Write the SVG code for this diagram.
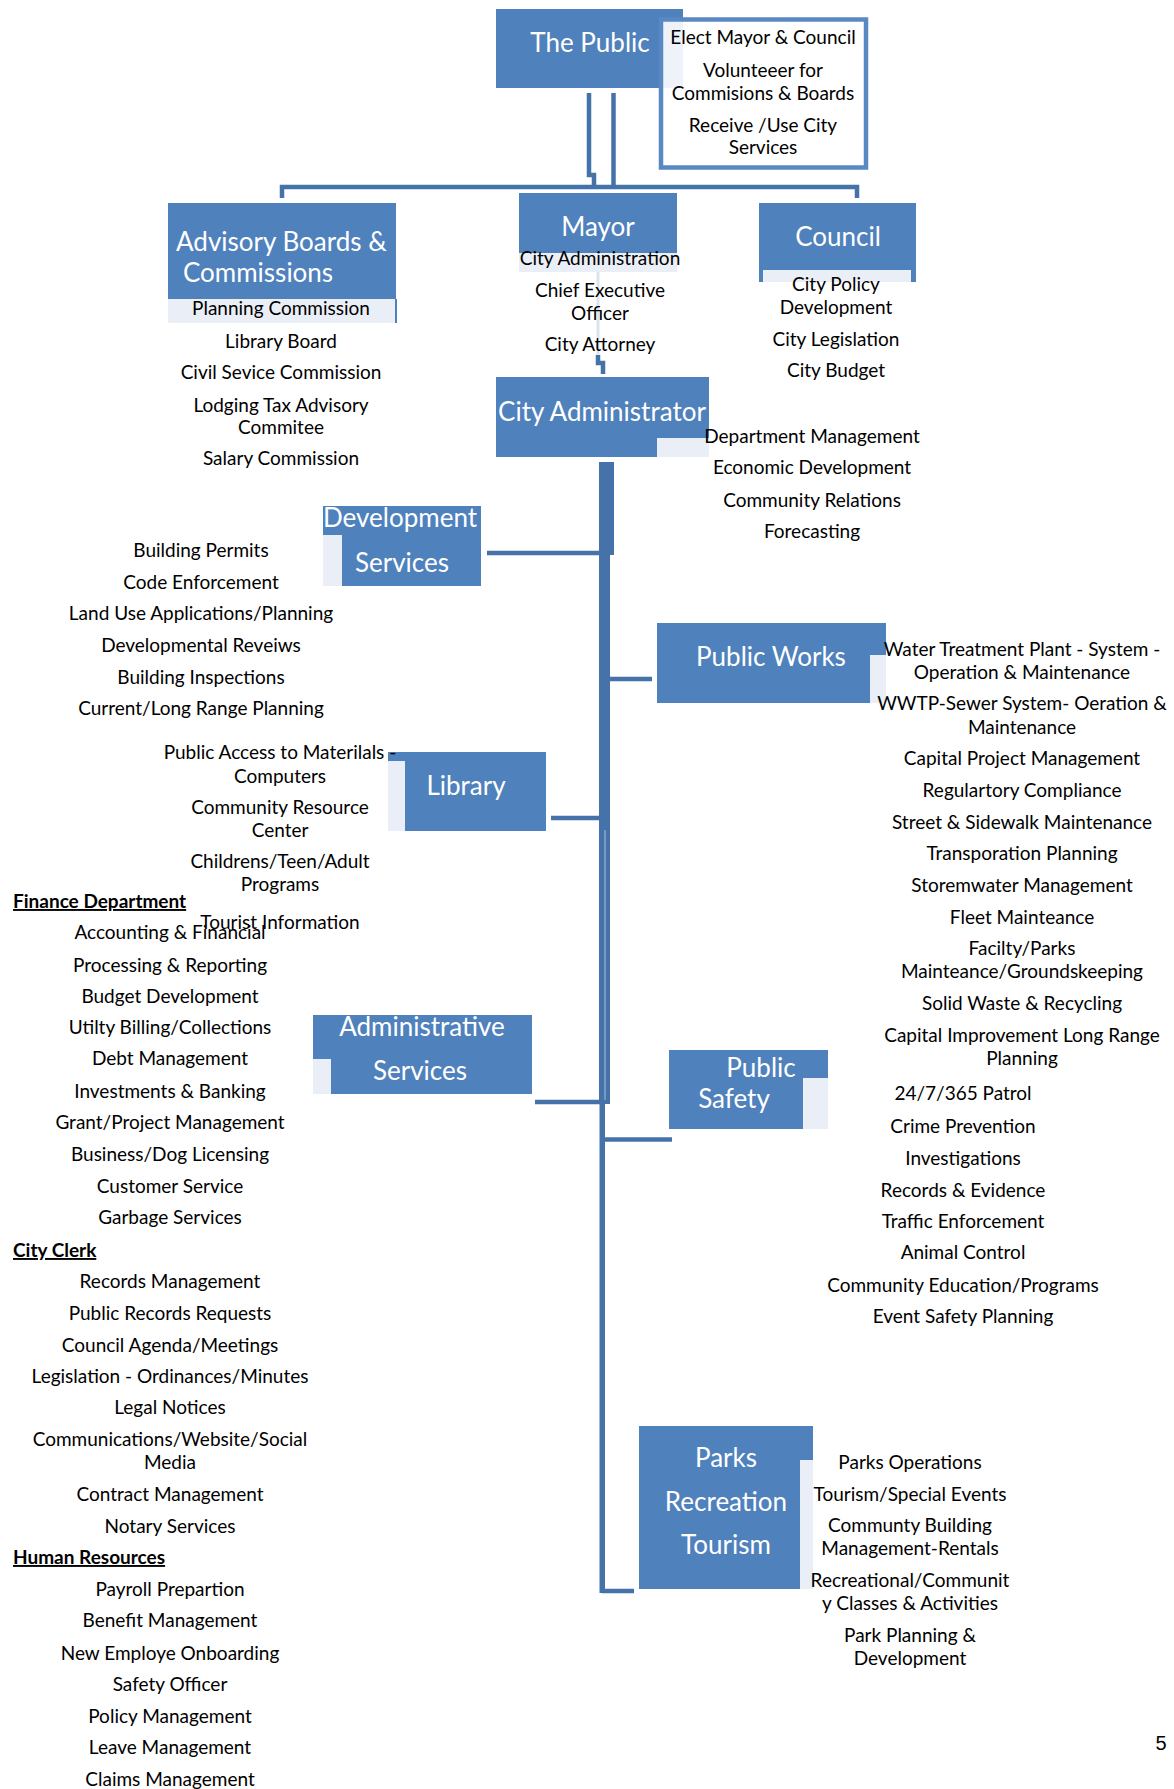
<svg xmlns="http://www.w3.org/2000/svg" width="1174" height="1789" viewBox="0 0 1174 1789">
<style>
.bx{fill:#4f81bd}
.lt{fill:#eaeff7}
.ln{fill:none;stroke:#4672aa;stroke-width:4.5}
.tr{fill:#4672aa}
.ti{font-family:Lato,"Liberation Sans",sans-serif;font-size:26px;fill:#fff;text-anchor:middle}
.ts{text-anchor:start}
.t{font-family:Lato,"Liberation Sans",sans-serif;font-size:19px;fill:#000;text-anchor:middle}
.hd{font-family:Lato,"Liberation Sans",sans-serif;font-size:19px;font-weight:bold;fill:#000;text-decoration:underline}
</style>
<rect width="1174" height="1789" fill="#fff"/>

<g id="connectors">
  <path class="ln" d="M589,93 V175 H594 V187"/>
  <path class="ln" d="M613.5,93 V187"/>
  <path class="ln" d="M282,198 V187 H857 V198"/>
  <path d="M598,272 V355" stroke="#dce4ef" stroke-width="3" fill="none"/>
  <path class="ln" d="M598,355 V363 H603 V374" stroke-width="5"/>
  <rect class="tr" x="599" y="462" width="15" height="93"/>
  <rect class="tr" x="599" y="555" width="11" height="549"/>
  <path d="M605,830 V1100" stroke="#a9bfdc" stroke-width="1" fill="none"/>
  <rect class="tr" x="599.5" y="1104" width="5.5" height="489"/>
  <path class="ln" d="M487,553 H600"/>
  <path class="ln" d="M610,679 H652"/>
  <path class="ln" d="M551,818 H600"/>
  <path class="ln" d="M535,1102 H600"/>
  <path class="ln" d="M605,1139.5 H672"/>
  <path class="ln" d="M602,1591 H634"/>
</g>

<g id="the-public">
  <rect class="bx" x="496" y="9" width="187" height="79"/>
  <text class="ti" x="590" y="52">The Public</text>
</g>

<g id="public-roles">
  <rect x="661" y="19.5" width="205" height="148" fill="#fff" fill-opacity="0.9" stroke="#5a88c2" stroke-width="4.5"/>
  <text class="t" x="763" y="44">Elect Mayor &amp; Council</text>
  <text class="t" x="763" y="77">Volunteeer for</text>
  <text class="t" x="763" y="100">Commisions &amp; Boards</text>
  <text class="t" x="763" y="132">Receive /Use City</text>
  <text class="t" x="763" y="154">Services</text>
</g>

<g id="advisory">
  <rect class="bx" x="168" y="203" width="228" height="96"/>
  <rect class="lt" x="168" y="299" width="228" height="24"/>
  <rect class="bx" x="395" y="299" width="2" height="24"/>
  <text class="ti ts" x="176" y="251">Advisory Boards &amp;</text>
  <text class="ti ts" x="183" y="282">Commissions</text>
  <text class="t" x="281" y="315">Planning Commission</text>
  <text class="t" x="281" y="348">Library Board</text>
  <text class="t" x="281" y="379">Civil Sevice Commission</text>
  <text class="t" x="281" y="412">Lodging Tax Advisory</text>
  <text class="t" x="281" y="434">Commitee</text>
  <text class="t" x="281" y="465">Salary Commission</text>
</g>

<g id="mayor">
  <rect class="bx" x="519" y="193" width="158" height="60"/>
  <rect class="lt" x="519" y="253" width="158" height="19"/>
  <text class="ti" x="598" y="236">Mayor</text>
  <text class="t" x="600" y="265">City Administration</text>
  <text class="t" x="600" y="297">Chief Executive</text>
  <text class="t" x="600" y="320">Officer</text>
  <text class="t" x="600" y="351">City Attorney</text>
</g>

<g id="council">
  <rect class="bx" x="759" y="203" width="157" height="79"/>
  <rect class="lt" x="763" y="270" width="148" height="12"/>
  <text class="ti" x="838" y="246">Council</text>
  <text class="t" x="836" y="291">City Policy</text>
  <text class="t" x="836" y="314">Development</text>
  <text class="t" x="836" y="346">City Legislation</text>
  <text class="t" x="836" y="377">City Budget</text>
</g>

<g id="city-administrator">
  <rect class="bx" x="496" y="377" width="213" height="80"/>
  <rect class="lt" x="657" y="438" width="52" height="19"/>
  <text class="ti" x="602" y="421" font-size="26.5">City Administrator</text>
  <text class="t" x="812" y="443">Department Management</text>
  <text class="t" x="812" y="474">Economic Development</text>
  <text class="t" x="812" y="507">Community Relations</text>
  <text class="t" x="812" y="538">Forecasting</text>
</g>

<g id="development-services">
  <rect class="bx" x="323" y="506" width="158" height="80"/>
  <rect class="lt" x="323" y="535" width="19" height="51"/>
  <text class="ti ts" x="323" y="527">Development</text>
  <text class="ti" x="402" y="572">Services</text>
  <text class="t" x="201" y="557">Building Permits</text>
  <text class="t" x="201" y="589">Code Enforcement</text>
  <text class="t" x="201" y="620">Land Use Applications/Planning</text>
  <text class="t" x="201" y="652">Developmental Reveiws</text>
  <text class="t" x="201" y="684">Building Inspections</text>
  <text class="t" x="201" y="715">Current/Long Range Planning</text>
</g>

<g id="library">
  <rect class="bx" x="388" y="752" width="158" height="79"/>
  <rect class="lt" x="388" y="761" width="17" height="70"/>
  <text class="ti" x="466" y="795">Library</text>
  <text class="t" x="280" y="759">Public Access to Materilals -</text>
  <text class="t" x="280" y="783">Computers</text>
  <text class="t" x="280" y="814">Community Resource</text>
  <text class="t" x="280" y="837">Center</text>
  <text class="t" x="280" y="868">Childrens/Teen/Adult</text>
  <text class="t" x="280" y="891">Programs</text>
  <text class="t" x="280" y="929">Tourist Information</text>
</g>

<g id="administrative-services">
  <rect class="bx" x="313" y="1015" width="219" height="79"/>
  <rect class="lt" x="313" y="1059" width="18" height="35"/>
  <text class="ti" x="422" y="1036">Administrative</text>
  <text class="ti" x="420" y="1080">Services</text>
</g>

<g id="finance">
  <text class="hd" x="13" y="908">Finance Department</text>
  <text class="t" x="170" y="939">Accounting &amp; Financial</text>
  <text class="t" x="170" y="972">Processing &amp; Reporting</text>
  <text class="t" x="170" y="1003">Budget Development</text>
  <text class="t" x="170" y="1034">Utilty Billing/Collections</text>
  <text class="t" x="170" y="1065">Debt Management</text>
  <text class="t" x="170" y="1098">Investments &amp; Banking</text>
  <text class="t" x="170" y="1129">Grant/Project Management</text>
  <text class="t" x="170" y="1161">Business/Dog Licensing</text>
  <text class="t" x="170" y="1193">Customer Service</text>
  <text class="t" x="170" y="1224">Garbage Services</text>
</g>

<g id="city-clerk">
  <text class="hd" x="13" y="1257">City Clerk</text>
  <text class="t" x="170" y="1288">Records Management</text>
  <text class="t" x="170" y="1320">Public Records Requests</text>
  <text class="t" x="170" y="1352">Council Agenda/Meetings</text>
  <text class="t" x="170" y="1383">Legislation - Ordinances/Minutes</text>
  <text class="t" x="170" y="1414">Legal Notices</text>
  <text class="t" x="170" y="1446">Communications/Website/Social</text>
  <text class="t" x="170" y="1469">Media</text>
  <text class="t" x="170" y="1501">Contract Management</text>
  <text class="t" x="170" y="1533">Notary Services</text>
</g>

<g id="human-resources">
  <text class="hd" x="13" y="1564">Human Resources</text>
  <text class="t" x="170" y="1596">Payroll Prepartion</text>
  <text class="t" x="170" y="1627">Benefit Management</text>
  <text class="t" x="170" y="1660">New Employe Onboarding</text>
  <text class="t" x="170" y="1691">Safety Officer</text>
  <text class="t" x="170" y="1723">Policy Management</text>
  <text class="t" x="170" y="1754">Leave Management</text>
  <text class="t" x="170" y="1786">Claims Management</text>
</g>

<g id="public-works">
  <rect class="bx" x="657" y="623" width="229" height="80"/>
  <rect class="lt" x="870" y="655" width="16" height="48"/>
  <text class="ti" x="771" y="666">Public Works</text>
  <text class="t" x="1022" y="656">Water Treatment Plant - System -</text>
  <text class="t" x="1022" y="679">Operation &amp; Maintenance</text>
  <text class="t" x="1022" y="710">WWTP-Sewer System- Oeration &amp;</text>
  <text class="t" x="1022" y="734">Maintenance</text>
  <text class="t" x="1022" y="765">Capital Project Management</text>
  <text class="t" x="1022" y="797">Regulartory Compliance</text>
  <text class="t" x="1022" y="829">Street &amp; Sidewalk Maintenance</text>
  <text class="t" x="1022" y="860">Transporation Planning</text>
  <text class="t" x="1022" y="892">Storemwater Management</text>
  <text class="t" x="1022" y="924">Fleet Mainteance</text>
  <text class="t" x="1022" y="955">Facilty/Parks</text>
  <text class="t" x="1022" y="978">Mainteance/Groundskeeping</text>
  <text class="t" x="1022" y="1010">Solid Waste &amp; Recycling</text>
  <text class="t" x="1022" y="1042">Capital Improvement Long Range</text>
  <text class="t" x="1022" y="1065">Planning</text>
</g>

<g id="public-safety">
  <rect class="bx" x="669" y="1050" width="159" height="79"/>
  <rect class="lt" x="803" y="1078" width="25" height="51"/>
  <text class="ti" x="761" y="1077">Public</text>
  <text class="ti" x="734" y="1108">Safety</text>
  <text class="t" x="963" y="1100">24/7/365 Patrol</text>
  <text class="t" x="963" y="1133">Crime Prevention</text>
  <text class="t" x="963" y="1165">Investigations</text>
  <text class="t" x="963" y="1197">Records &amp; Evidence</text>
  <text class="t" x="963" y="1228">Traffic Enforcement</text>
  <text class="t" x="963" y="1259">Animal Control</text>
  <text class="t" x="963" y="1292">Community Education/Programs</text>
  <text class="t" x="963" y="1323">Event Safety Planning</text>
</g>

<g id="parks">
  <rect class="bx" x="639" y="1426" width="174" height="163"/>
  <rect class="lt" x="800" y="1460" width="13" height="129"/>
  <text class="ti" x="726" y="1467">Parks</text>
  <text class="ti" x="726" y="1511">Recreation</text>
  <text class="ti" x="726" y="1554">Tourism</text>
  <text class="t" x="910" y="1469">Parks Operations</text>
  <text class="t" x="910" y="1501">Tourism/Special Events</text>
  <text class="t" x="910" y="1532">Communty Building</text>
  <text class="t" x="910" y="1555">Management-Rentals</text>
  <text class="t" x="910" y="1587">Recreational/Communit</text>
  <text class="t" x="910" y="1610">y Classes &amp; Activities</text>
  <text class="t" x="910" y="1642">Park Planning &amp;</text>
  <text class="t" x="910" y="1665">Development</text>
</g>

<text x="1161" y="1750" font-family="Liberation Sans, Arial, sans-serif" font-size="20" text-anchor="middle" fill="#000">5</text>
</svg>
